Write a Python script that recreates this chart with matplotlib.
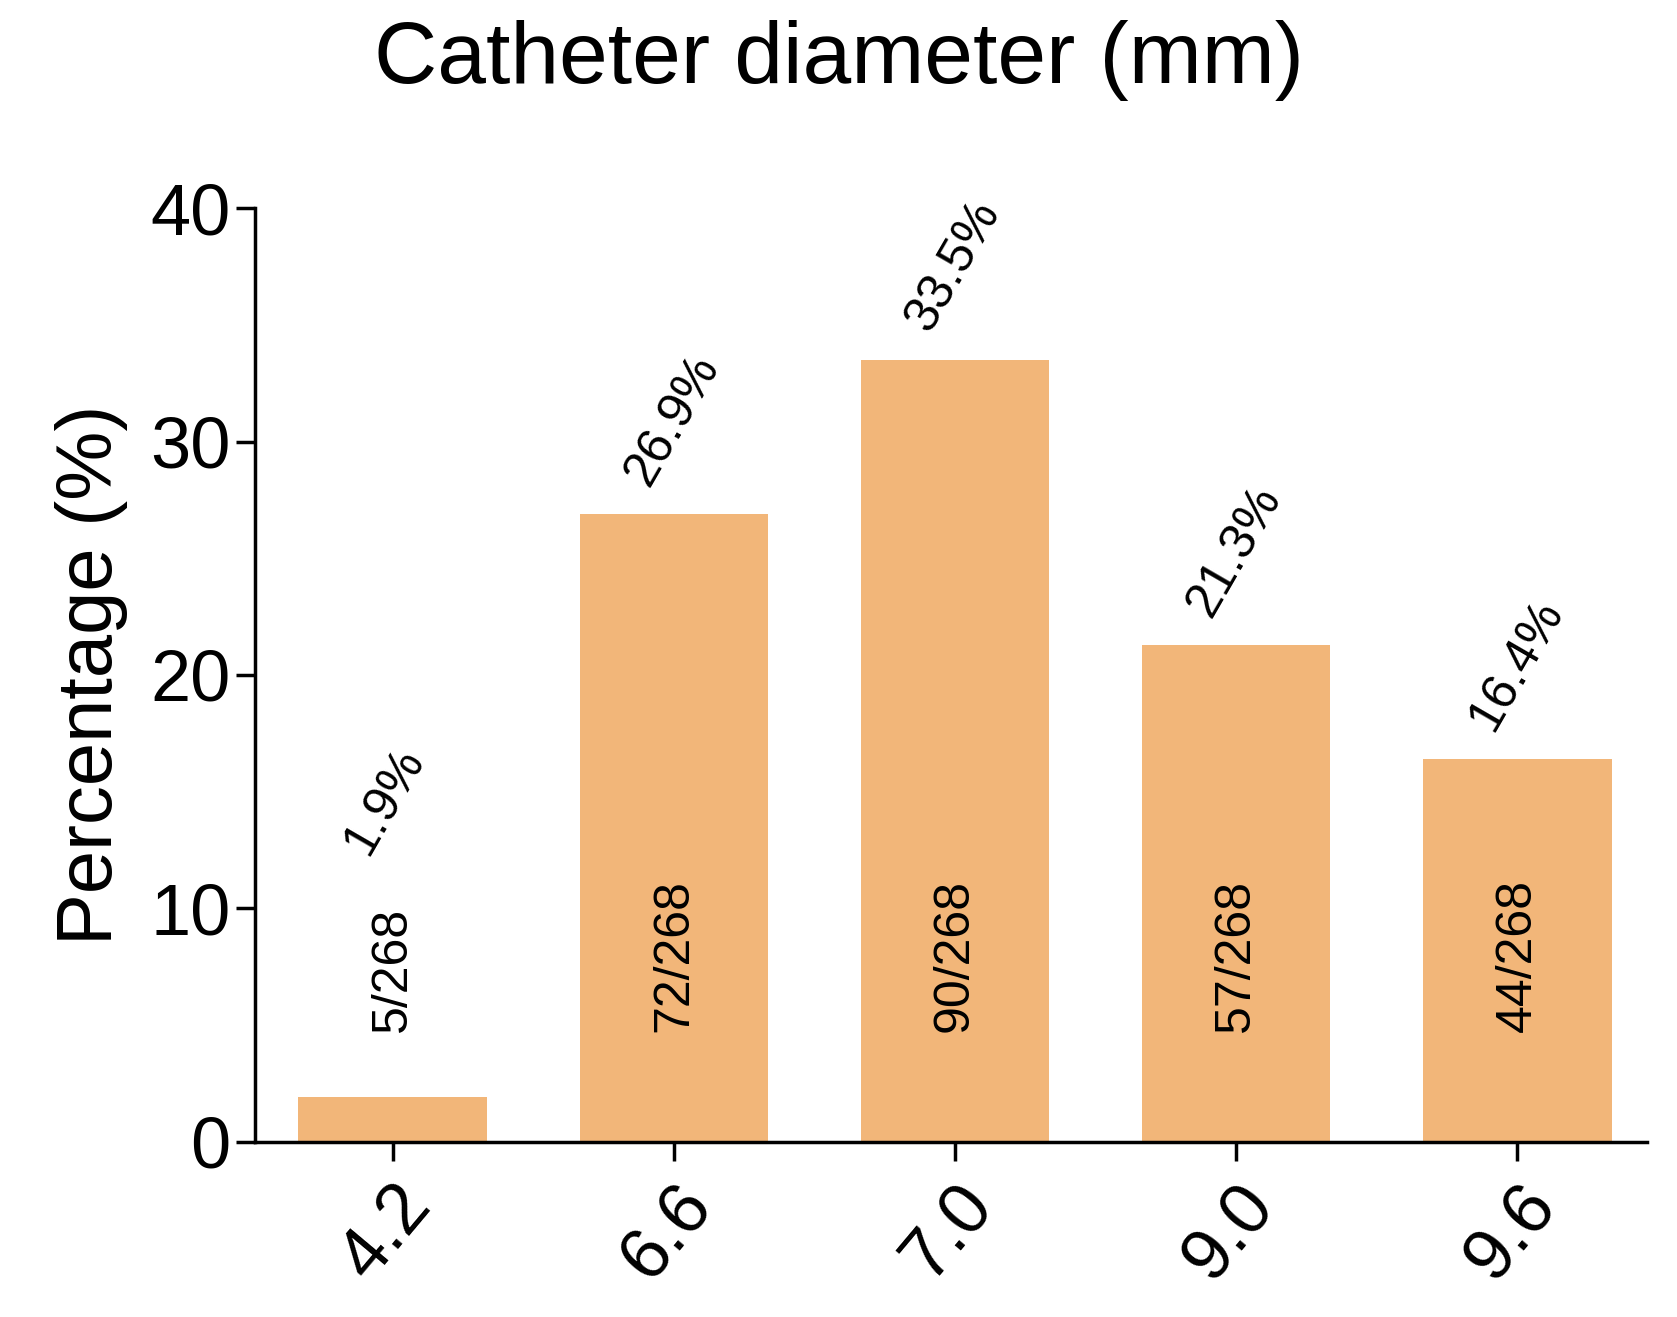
import matplotlib
matplotlib.use("Agg")
import matplotlib.pyplot as plt

categories = ["4.2", "6.6", "7.0", "9.0", "9.6"]
values = [1.9, 26.9, 33.5, 21.3, 16.4]
counts = ["5/268", "72/268", "90/268", "57/268", "44/268"]
pct_labels = ["1.9%", "26.9%", "33.5%", "21.3%", "16.4%"]

plt.rcParams['font.family'] = ['Liberation Sans', 'DejaVu Sans']
fig = plt.figure(figsize=(16.77, 13.17), dpi=100)
ax = fig.add_axes([0.152, 0.133, 0.83, 0.709])
x = list(range(len(categories)))
ax.bar(x, values, width=0.67, color="#F2B679")
ax.set_xlim(-0.49, 4.46)
ax.set_ylim(0, 40)
ax.set_yticks([0, 10, 20, 30, 40])
ax.set_xticks(x)
ax.set_xticklabels(categories, rotation=50, ha='right', rotation_mode='anchor')
ax.tick_params(axis='both', labelsize=52, width=2.5, length=14, direction='out')
ax.tick_params(axis='x', pad=8)
for s in ['top', 'right']:
    ax.spines[s].set_visible(False)
for s in ['left', 'bottom']:
    ax.spines[s].set_linewidth(2.5)
ax.set_ylabel("Percentage (%)", fontsize=56, labelpad=16)
fig.suptitle("Catheter diameter (mm)", fontsize=63, y=0.985)

for i, (v, c, p) in enumerate(zip(values, counts, pct_labels)):
    ax.text(i, 4.7, c, rotation=90, ha='center', va='bottom', fontsize=36)
    py = v + 0.9 if v > 10 else 12.0
    ax.text(i - 0.06, py, p, rotation=60, ha='left', va='bottom',
            rotation_mode='anchor', fontsize=36)

fig.savefig("out.png", dpi=100)
